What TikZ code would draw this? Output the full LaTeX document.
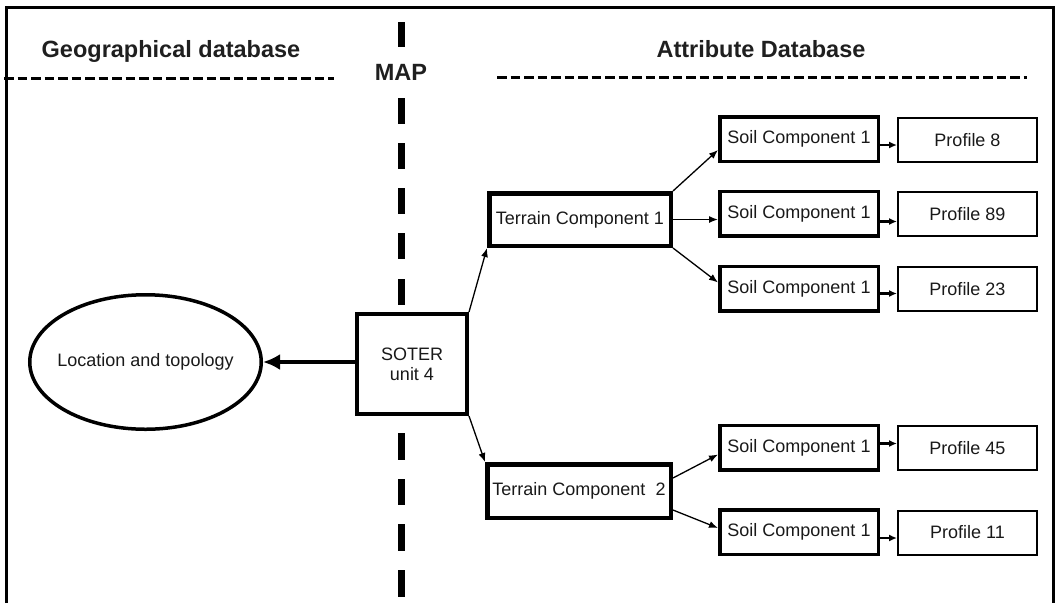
\documentclass[tikz,border=0pt]{standalone}
\usepackage{fontspec}
\setmainfont{Liberation Sans}
\usetikzlibrary{arrows.meta,shapes.geometric,calc}
\begin{document}
\begin{tikzpicture}[x=1pt,y=-1pt,
  every node/.style={inner sep=0pt},
  txt/.style={font=\fontsize{18}{20}\selectfont, text=black!90},
  head/.style={font=\fontsize{23.5}{26}\selectfont\bfseries, text=black!88, anchor=base},
  tbox/.style={draw, line width=4.5pt, txt},
  sbox/.style={draw, line width=3.5pt, txt, minimum width=158.5pt, minimum height=44.5pt},
  pbox/.style={draw, line width=2pt, txt, minimum width=139pt, minimum height=44pt},
  thinarrow/.style={line width=1.3pt, -{Latex[length=9pt,width=7pt]}},
  shortarrow/.style={line width=2.2pt, -{Latex[length=8pt,width=7pt]}},
  sepdash/.style={line width=7pt},
  hdash/.style={line width=3pt, dash pattern=on 9.5pt off 4pt},
  ]
\useasboundingbox (0,0) rectangle (1058,603);
% frame
\draw[line width=3pt] (6,603) -- (6,7) -- (1053,7) -- (1053,603);

% headings
\node[head] (geo) at (171,57) {Geographical database};
\node[head] (attr) at (761,57) {Attribute Database};
\node[head] (map) at (401,80) {MAP};
\draw[hdash] (4,78) -- (334,78);
\draw[hdash] (497,77) -- (1027,77);

% vertical separator
\foreach \a/\b in {22/47,98/124,143/169,188/214,233/259,279/305,433/460,479/505,524/551,570/597}
  \draw[sepdash] (401,\a) -- (401,\b);

% nodes
\node[ellipse, draw, line width=3.5pt, minimum width=231.5pt, minimum height=134.5pt,
      label={[txt]center:Location and topology}] (loc) at (145.5,362) {};
\node[draw, fill=white, line width=4pt, txt, minimum width=110pt, minimum height=100pt, align=center] (soter) at (412,364) {SOTER\\unit 4};
\node[tbox, minimum width=181.5pt, minimum height=52.5pt] (t1) at (580,219.5) {Terrain Component 1};
\node[tbox, minimum width=183.5pt, minimum height=53.5pt] (t2) at (579,491) {Terrain Component~ 2};

\node[sbox] (s1) at (799,139) {Soil Component 1};
\node[sbox] (s2) at (799,213.5) {Soil Component 1};
\node[sbox] (s3) at (799,288.5) {Soil Component 1};
\node[sbox] (s4) at (799,447.5) {Soil Component 1};
\node[sbox] (s5) at (799,532) {Soil Component 1};

\node[pbox] (p1) at (967.5,140) {Profile 8};
\node[pbox] (p2) at (967.5,214) {Profile 89};
\node[pbox] (p3) at (967.5,289) {Profile 23};
\node[pbox] (p4) at (967.5,448) {Profile 45};
\node[pbox] (p5) at (967.5,532.5) {Profile 11};

% connectors
\draw[line width=4pt, -{Latex[length=17pt,width=16pt]}] (soter.west |- loc.east) -- (loc.east);
\draw[thinarrow] (soter.north east) -- (t1.south west);
\draw[thinarrow] (soter.south east) -- (t2.north west);

\draw[thinarrow] (t1.north east) -- ([yshift=-11pt]s1.west);
\draw[thinarrow] (t1.east) -- (s2.west |- t1.east);
\draw[thinarrow] (t1.south east) -- ([yshift=6pt]s3.west);
\draw[thinarrow] ([yshift=13pt]t2.east) -- ([yshift=-7pt]s4.west);
\draw[thinarrow] ([yshift=-19pt]t2.east) -- ([yshift=4pt]s5.west);

\coordinate (a1) at ([yshift=-6pt]s1.east);
\coordinate (a2) at ([yshift=-8pt]s2.east);
\coordinate (a3) at ([yshift=-5pt]s3.east);
\coordinate (a4) at ([yshift=4pt]s4.east);
\coordinate (a5) at ([yshift=-6pt]s5.east);
\draw[shortarrow] (a1) -- (p1.west |- a1);
\draw[shortarrow] (a2) -- (p2.west |- a2);
\draw[shortarrow] (a3) -- (p3.west |- a3);
\draw[shortarrow] (a4) -- (p4.west |- a4);
\draw[shortarrow] (a5) -- (p5.west |- a5);
\end{tikzpicture}
\end{document}
